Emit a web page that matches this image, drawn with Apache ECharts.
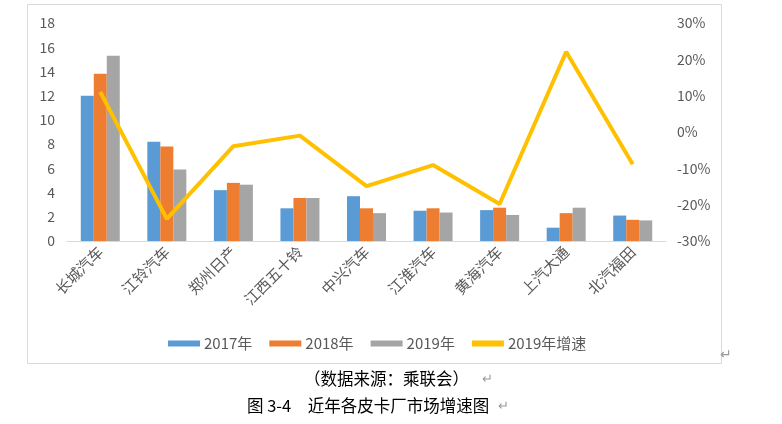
<!DOCTYPE html>
<html><head><meta charset="utf-8">
<script src="https://cdn.jsdelivr.net/npm/echarts@6/dist/echarts.min.js"></script>
<style>html,body{margin:0;padding:0;background:#fff}#c{width:782px;height:424px}</style>
</head><body><div id="c"></div>
<script>
const categories = ['长城汽车','江铃汽车','郑州日产','江西五十铃','中兴汽车','江淮汽车','黄海汽车','上汽大通','北汽福田'];
const sales2017 = [12.0, 8.2, 4.2, 2.7, 3.7, 2.5, 2.55, 1.1, 2.1];
const sales2018 = [13.8, 7.8, 4.8, 3.55, 2.7, 2.7, 2.75, 2.3, 1.75];
const sales2019 = [15.3, 5.9, 4.65, 3.55, 2.3, 2.35, 2.15, 2.75, 1.7];
const growth2019 = [11.0, -23.9, -3.9, -1.0, -14.9, -9.1, -19.8, 22.1, -8.9];
const seriesNames = ['2017年','2018年','2019年','2019年增速'];

const font = '"Noto Sans CJK SC", "Liberation Sans", sans-serif';
const grey = '#595959';
const chart = echarts.init(document.getElementById('c'));
const barCommon = {type:'bar', barWidth:13, barGap:'0%', yAxisIndex:0};
chart.setOption({
  animation:false,
  textStyle:{fontFamily:font},
  grid:{left:67, top:23, width:599, height:218},
  legend:{
    top:331, left:163, itemWidth:32, itemHeight:6, itemGap:17,
    textStyle:{color:grey, fontSize:15, fontFamily:font, padding:[0,0,0,-1]},
    data:[
      {name:seriesNames[0], icon:'rect'},
      {name:seriesNames[1], icon:'rect'},
      {name:seriesNames[2], icon:'rect'},
      {name:seriesNames[3], icon:'rect', itemStyle:{color:'#FFC000'}}
    ]
  },
  xAxis:{
    type:'category', data:categories,
    axisLine:{lineStyle:{color:'#d9d9d9'}},
    axisTick:{show:false},
    axisLabel:{rotate:45, color:grey, fontSize:15, margin:8, interval:0}
  },
  yAxis:[
    {type:'value', min:0, max:18, interval:2, splitLine:{show:false},
     axisLine:{show:false}, axisTick:{show:false},
     axisLabel:{color:grey, fontSize:14, margin:12}},
    {type:'value', min:-30, max:30, interval:10, splitLine:{show:false},
     axisLine:{show:false}, axisTick:{show:false},
     axisLabel:{color:grey, fontSize:14, margin:11, formatter:'{value}%'}}
  ],
  series:[
    Object.assign({name:seriesNames[0], data:sales2017, itemStyle:{color:'#5B9BD5'}}, barCommon),
    Object.assign({name:seriesNames[1], data:sales2018, itemStyle:{color:'#ED7D31'}}, barCommon),
    Object.assign({name:seriesNames[2], data:sales2019, itemStyle:{color:'#A5A5A5'}}, barCommon),
    {name:seriesNames[3], type:'line', yAxisIndex:1, data:growth2019, showSymbol:false,
     symbol:'none', lineStyle:{color:'#FFC000', width:4}, itemStyle:{color:'#FFC000'}}
  ],
  graphic:[
    {type:'rect', shape:{x:27.5, y:4.5, width:694, height:359}, style:{fill:'none', stroke:'#d9d9d9', lineWidth:1}, silent:true, z:-1},
    {type:'text', left:720, top:347, style:{text:'↵', fill:'#999', font:'14px '+font}},
    {type:'text', left:304, top:370, style:{text:'（数据来源：乘联会）', fill:'#000', font:'16.5px '+font}},
    {type:'text', left:482, top:372, style:{text:'↵', fill:'#999', font:'13px '+font}},
    {type:'text', left:247, top:397, style:{text:'图 3-4　近年各皮卡厂市场增速图', fill:'#000', font:'16.5px '+font}},
    {type:'text', left:498, top:399, style:{text:'↵', fill:'#999', font:'13px '+font}}
  ]
});
</script></body></html>
